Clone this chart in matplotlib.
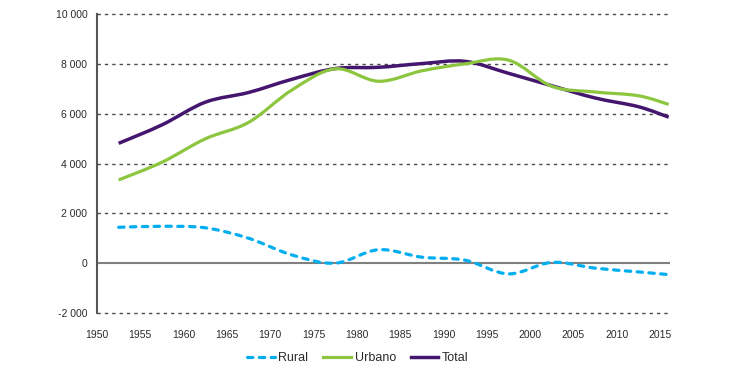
import numpy as np
import matplotlib
matplotlib.use('Agg')
import matplotlib.pyplot as plt
from matplotlib.path import Path
from matplotlib.patches import PathPatch
from matplotlib.lines import Line2D

plt.rcParams['font.family'] = ['Liberation Sans', 'DejaVu Sans']

# quinquennial midpoints + last estimate
years = [1952.5, 1957.5, 1962.5, 1967.5, 1972.5, 1977.5, 1982.5,
         1987.5, 1992.5, 1997.5, 2002.5, 2007.5, 2012.5, 2016]
rural = [1440, 1480, 1420, 1000, 330, 0, 540,
         240, 120, -430, 30, -200, -350, -460]
urbano = [3340, 4050, 4990, 5650, 6950, 7800, 7300,
          7720, 8000, 8150, 7100, 6870, 6720, 6370]
total = [4810, 5550, 6460, 6850, 7380, 7810, 7860,
         8010, 8100, 7620, 7120, 6630, 6280, 5860]

yticks = [-2000, 0, 2000, 4000, 6000, 8000, 10000]
xticks = list(range(1950, 2016, 5))

c_rural = '#00aeef'
c_urb = '#8cc63e'
c_tot = '#45166e'
txt = '#2b2b2b'


def smooth_path(x, y):
    # excel-like smoothed line (catmull-rom as bezier)
    pts = np.column_stack([x, y]).astype(float)
    n = len(pts)
    verts = [pts[0]]
    codes = [Path.MOVETO]
    for i in range(n - 1):
        p0 = pts[max(i - 1, 0)]
        p1 = pts[i]
        p2 = pts[i + 1]
        p3 = pts[min(i + 2, n - 1)]
        verts += [p1 + (p2 - p0) / 6, p2 - (p3 - p1) / 6, p2]
        codes += [Path.CURVE4] * 3
    return Path(verts, codes)


fig = plt.figure(figsize=(7.41, 3.78), dpi=100)
ax = fig.add_axes([97 / 741, 1 - 313 / 378, 573 / 741, 299 / 378])

for yv in yticks:
    if yv != 0:
        ax.axhline(yv, color='#4a4a4a', lw=1.0, ls=(0, (2.4, 2.9)), zorder=1, clip_on=False)
ax.axhline(0, color='#808080', lw=1.5, zorder=2)

ax.add_patch(PathPatch(smooth_path(years, rural), fc='none', ec=c_rural, lw=2.3,
                       ls=(0, (1.7, 2.0)), capstyle='round', zorder=3))
ax.add_patch(PathPatch(smooth_path(years, urbano), fc='none', ec=c_urb, lw=2.3, zorder=4))
ax.add_patch(PathPatch(smooth_path(years, total), fc='none', ec=c_tot, lw=2.5, zorder=3))

ax.set_xlim(1950, 2016.15)
ax.set_ylim(-2000, 10000)
ax.set_xticks(xticks)
ax.set_yticks(yticks)
ax.set_yticklabels([f'{v:,}'.replace(',', ' ') for v in yticks])
ax.tick_params(length=0, labelsize=7.5, labelcolor=txt)
ax.tick_params(axis='y', pad=7)
ax.tick_params(axis='x', pad=12)
for s in ['top', 'right', 'bottom']:
    ax.spines[s].set_visible(False)
ax.spines['left'].set_color('#555555')
ax.spines['left'].set_linewidth(1.5)

handles = [
    Line2D([], [], color=c_rural, lw=2.3, ls=(0, (1.7, 2.0)), dash_capstyle='round'),
    Line2D([], [], color=c_urb, lw=2.3),
    Line2D([], [], color=c_tot, lw=2.5),
]
fig.legend(handles, ['Rural', 'Urbano', 'Total'], loc='center', ncol=3,
           bbox_to_anchor=(0.483, 0.053), frameon=False, fontsize=9,
           handlelength=2.2, handletextpad=0.3, columnspacing=1.2,
           labelcolor=txt)

fig.savefig('out.png', dpi=100)
